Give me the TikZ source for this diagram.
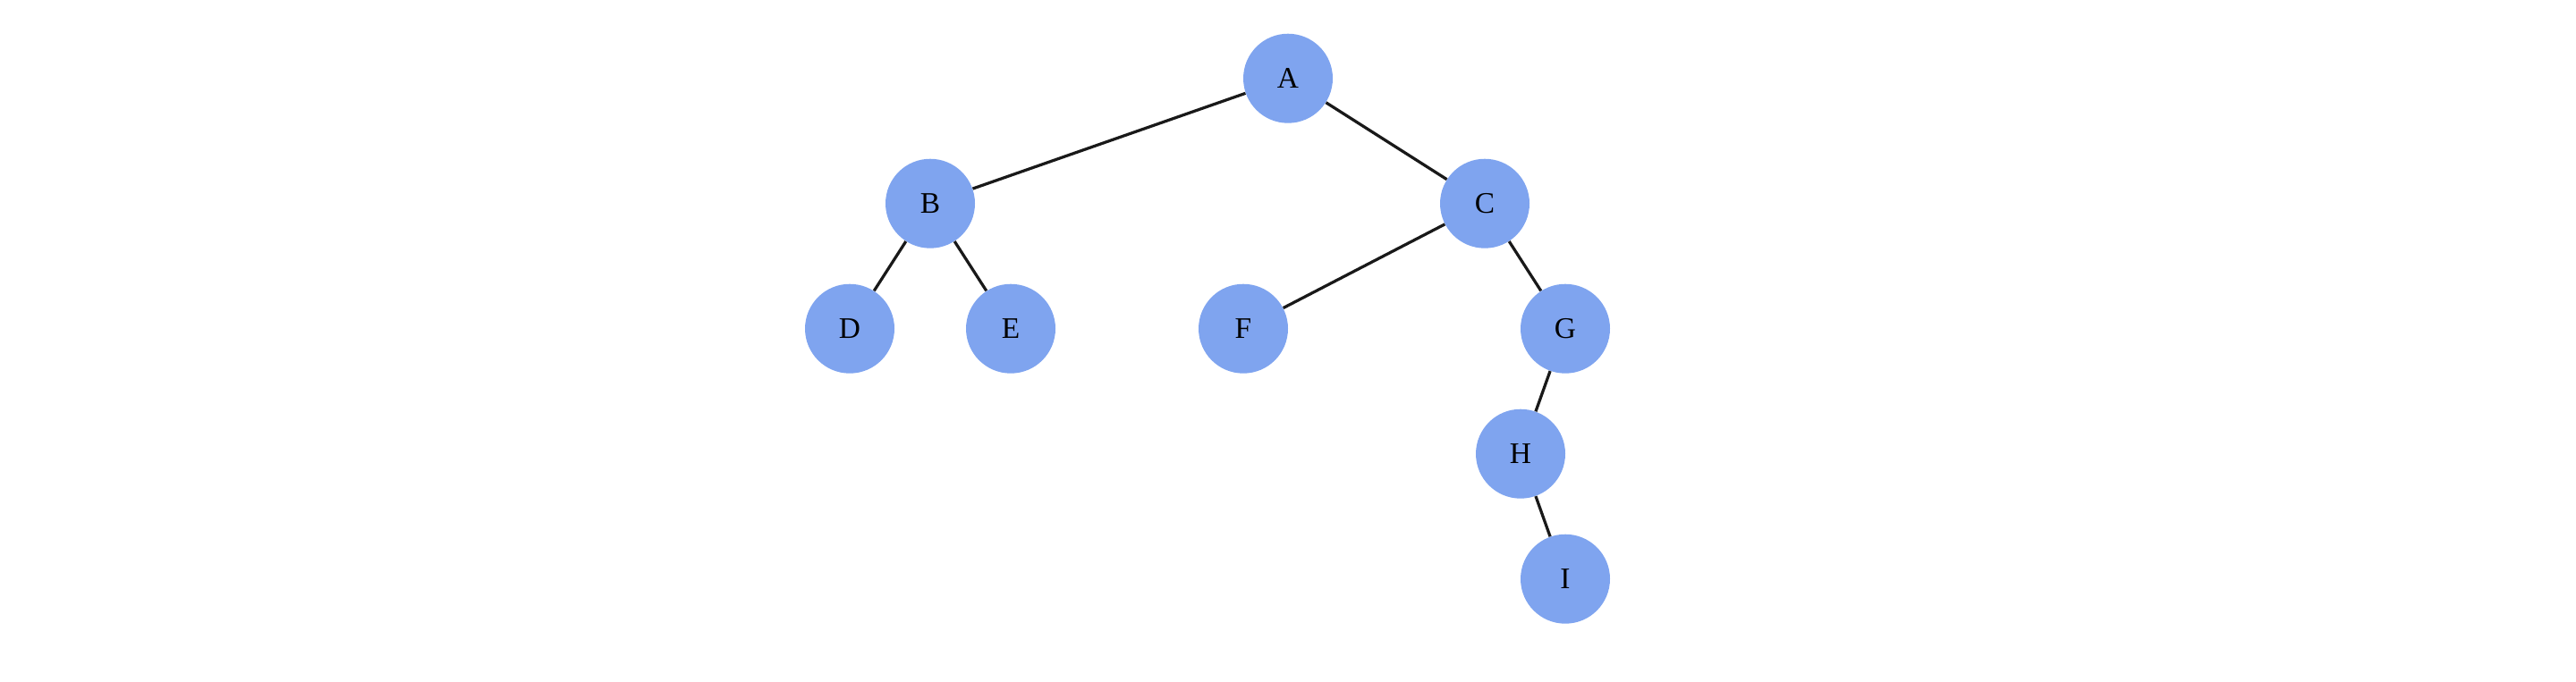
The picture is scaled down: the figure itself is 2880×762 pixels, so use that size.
\documentclass[tikz,border=0pt]{standalone}
\usepackage{fontspec}
\setmainfont{Liberation Serif}
\definecolor{nodeblue}{HTML}{7FA4EF}
\begin{document}
\begin{tikzpicture}[x=0.02cm,y=-0.02cm,
  treenode/.style={circle,fill=nodeblue,draw=none,minimum size=2cm,inner sep=0pt,font=\fontsize{19}{22}\selectfont},
  edge/.style={draw=black!90,line width=1.85pt}]
\useasboundingbox (0,0) rectangle (2880,762);
\node[treenode] (A) at (1440,87.7) {A};
\node[treenode] (B) at (1040,227.7) {B};
\node[treenode] (C) at (1660,227.7) {C};
\node[treenode] (D) at (950,367.7) {D};
\node[treenode] (E) at (1130,367.7) {E};
\node[treenode] (F) at (1390,367.7) {F};
\node[treenode] (G) at (1750,367.7) {G};
\node[treenode] (H) at (1700,507.7) {H};
\node[treenode] (I) at (1750,647.7) {I};
\draw[edge] (A) -- (B);
\draw[edge] (A) -- (C);
\draw[edge] (B) -- (D);
\draw[edge] (B) -- (E);
\draw[edge] (C) -- (F);
\draw[edge] (C) -- (G);
\draw[edge] (G) -- (H);
\draw[edge] (H) -- (I);
\end{tikzpicture}
\end{document}
